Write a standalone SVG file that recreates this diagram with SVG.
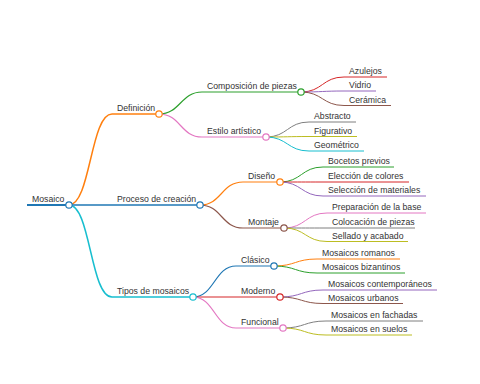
<svg xmlns="http://www.w3.org/2000/svg" width="480" height="384" viewBox="0 0 480 384">
<style>
text{font-family:"Liberation Sans",Arial,sans-serif;font-size:8.7px;fill:#333}
path{fill:none}
.l0{stroke-width:2}
.l1{stroke-width:1.5}
.l2{stroke-width:1.2}
.l3{stroke-width:1}
circle{fill:#fff;stroke-width:1.2}
.c0{stroke:#1f77b4}.c1{stroke:#ff7f0e}.c2{stroke:#2ca02c}.c3{stroke:#d62728}.c4{stroke:#9467bd}
.c5{stroke:#8c564b}.c6{stroke:#e377c2}.c7{stroke:#7f7f7f}.c8{stroke:#bcbd22}.c9{stroke:#17becf}
</style>
<rect width="480" height="384" fill="#fff"/>
<g id="connectors">
<path class="l1 c1" d="M69 205C90.5 205 90.5 114 112 114"/>
<path class="l1 c0" d="M69 205C90.5 205 90.5 205 112 205"/>
<path class="l1 c9" d="M69 205C90.5 205 90.5 297 112 297"/>
<path class="l2 c2" d="M159 114C180.5 114 180.5 92 202 92"/>
<path class="l2 c6" d="M159 114C180.5 114 180.5 137 202 137"/>
<path class="l3 c3" d="M301 92C322.5 92 322.5 77 344 77"/>
<path class="l3 c4" d="M301 92C322.5 92 322.5 91 344 91"/>
<path class="l3 c5" d="M301 92C322.5 92 322.5 105.5 344 105.5"/>
<path class="l3 c7" d="M266 137C287.5 137 287.5 122 309 122"/>
<path class="l3 c8" d="M266 137C287.5 137 287.5 136.5 309 136.5"/>
<path class="l3 c9" d="M266 137C287.5 137 287.5 151 309 151"/>
<path class="l2 c1" d="M200 205C221.5 205 221.5 182 243 182"/>
<path class="l2 c5" d="M200 205C221.5 205 221.5 228 243 228"/>
<path class="l3 c2" d="M280 182C301.5 182 301.5 167 323 167"/>
<path class="l3 c3" d="M280 182C301.5 182 301.5 182 323 182"/>
<path class="l3 c4" d="M280 182C301.5 182 301.5 196 323 196"/>
<path class="l3 c6" d="M284 228C305.5 228 305.5 213 327 213"/>
<path class="l3 c7" d="M284 228C305.5 228 305.5 228 327 228"/>
<path class="l3 c8" d="M284 228C305.5 228 305.5 241.5 327 241.5"/>
<path class="l2 c0" d="M193 297C214.5 297 214.5 266 236 266"/>
<path class="l2 c3" d="M193 297C214.5 297 214.5 297 236 297"/>
<path class="l2 c6" d="M193 297C214.5 297 214.5 328 236 328"/>
<path class="l3 c1" d="M274 266C295.5 266 295.5 259 317 259"/>
<path class="l3 c2" d="M274 266C295.5 266 295.5 273 317 273"/>
<path class="l3 c4" d="M280 297C301.5 297 301.5 290 323 290"/>
<path class="l3 c5" d="M280 297C301.5 297 301.5 303.5 323 303.5"/>
<path class="l3 c7" d="M283 328C304.5 328 304.5 321 326 321"/>
<path class="l3 c8" d="M283 328C304.5 328 304.5 335 326 335"/>
</g>
<g id="n-mosaico"><path class="l0 c0" d="M27 205H69"/><circle class="c0" cx="69" cy="205" r="3.2"/><text x="32" y="202">Mosaico</text></g>
<g id="n-definicion"><path class="l1 c1" d="M112 114H159"/><circle class="c1" cx="159" cy="114" r="3.2"/><text x="117" y="111">Definición</text></g>
<g id="n-composicion"><path class="l2 c2" d="M202 92H301"/><circle class="c2" cx="301" cy="92" r="3.2"/><text x="207" y="89">Composición de piezas</text></g>
<g id="n-azulejos"><path class="l3 c3" d="M344 77H387"/><text x="349" y="74">Azulejos</text></g>
<g id="n-vidrio"><path class="l3 c4" d="M344 91H376"/><text x="349" y="88">Vidrio</text></g>
<g id="n-ceramica"><path class="l3 c5" d="M344 105.5H391"/><text x="349" y="102.5">Cerámica</text></g>
<g id="n-estilo"><path class="l2 c6" d="M202 137H266"/><circle class="c6" cx="266" cy="137" r="3.2"/><text x="207" y="134">Estilo artístico</text></g>
<g id="n-abstracto"><path class="l3 c7" d="M309 122H356"/><text x="314" y="119">Abstracto</text></g>
<g id="n-figurativo"><path class="l3 c8" d="M309 136.5H357"/><text x="314" y="133.5">Figurativo</text></g>
<g id="n-geometrico"><path class="l3 c9" d="M309 151H364"/><text x="314" y="148">Geométrico</text></g>
<g id="n-proceso"><path class="l1 c0" d="M112 205H200"/><circle class="c0" cx="200" cy="205" r="3.2"/><text x="117" y="202">Proceso de creación</text></g>
<g id="n-diseno"><path class="l2 c1" d="M243 182H280"/><circle class="c1" cx="280" cy="182" r="3.2"/><text x="248" y="179">Diseño</text></g>
<g id="n-bocetos"><path class="l3 c2" d="M323 167H394"/><text x="328" y="164">Bocetos previos</text></g>
<g id="n-eleccion"><path class="l3 c3" d="M323 182H409"/><text x="328" y="179">Elección de colores</text></g>
<g id="n-seleccion"><path class="l3 c4" d="M323 196H426"/><text x="328" y="193">Selección de materiales</text></g>
<g id="n-montaje"><path class="l2 c5" d="M243 228H284"/><circle class="c5" cx="284" cy="228" r="3.2"/><text x="248" y="225">Montaje</text></g>
<g id="n-preparacion"><path class="l3 c6" d="M327 213H426"/><text x="332" y="210">Preparación de la base</text></g>
<g id="n-colocacion"><path class="l3 c7" d="M327 228H415"/><text x="332" y="225">Colocación de piezas</text></g>
<g id="n-sellado"><path class="l3 c8" d="M327 241.5H408"/><text x="332" y="238.5">Sellado y acabado</text></g>
<g id="n-tipos"><path class="l1 c9" d="M112 297H193"/><circle class="c9" cx="193" cy="297" r="3.2"/><text x="117" y="294">Tipos de mosaicos</text></g>
<g id="n-clasico"><path class="l2 c0" d="M236 266H274"/><circle class="c0" cx="274" cy="266" r="3.2"/><text x="241" y="263">Clásico</text></g>
<g id="n-romanos"><path class="l3 c1" d="M317 259H400"/><text x="322" y="256">Mosaicos romanos</text></g>
<g id="n-bizantinos"><path class="l3 c2" d="M317 273H405"/><text x="322" y="270">Mosaicos bizantinos</text></g>
<g id="n-moderno"><path class="l2 c3" d="M236 297H280"/><circle class="c3" cx="280" cy="297" r="3.2"/><text x="241" y="294">Moderno</text></g>
<g id="n-contemporaneos"><path class="l3 c4" d="M323 290H437"/><text x="328" y="287">Mosaicos contemporáneos</text></g>
<g id="n-urbanos"><path class="l3 c5" d="M323 303.5H403"/><text x="328" y="300.5">Mosaicos urbanos</text></g>
<g id="n-funcional"><path class="l2 c6" d="M236 328H283"/><circle class="c6" cx="283" cy="328" r="3.2"/><text x="241" y="325">Funcional</text></g>
<g id="n-fachadas"><path class="l3 c7" d="M326 321H423"/><text x="331" y="318">Mosaicos en fachadas</text></g>
<g id="n-suelos"><path class="l3 c8" d="M326 335H412"/><text x="331" y="332">Mosaicos en suelos</text></g>
</svg>
